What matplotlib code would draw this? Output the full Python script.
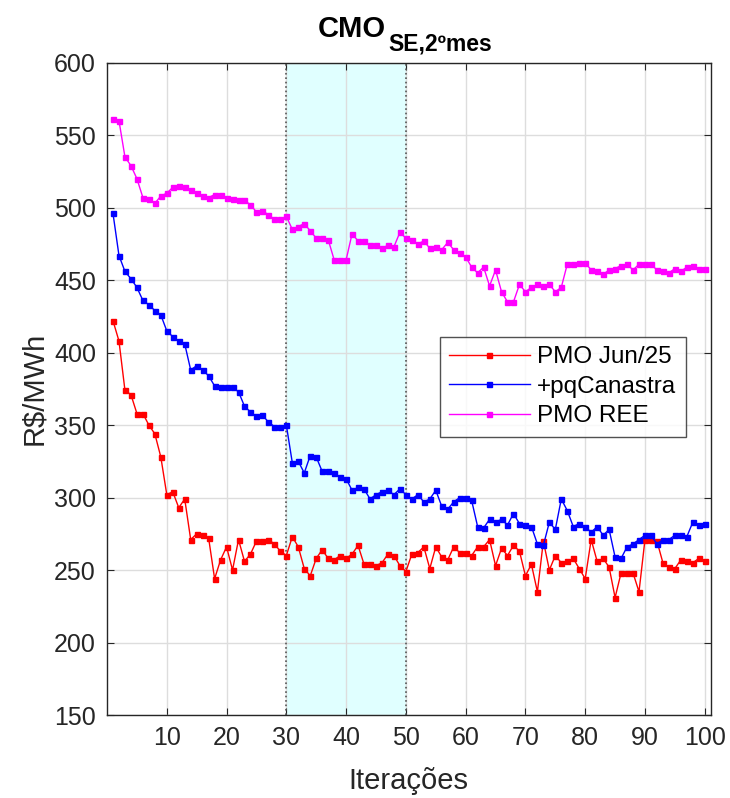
import numpy as np
import matplotlib
matplotlib.use('Agg')
import matplotlib.pyplot as plt

plt.rcParams['font.family'] = ['Liberation Sans', 'DejaVu Sans']

iteracoes = np.arange(1, 101)

pmo_jun25 = [422, 408, 374, 371, 358, 358, 350, 344, 328, 302,
             304, 293, 299, 271, 275, 274, 272, 244, 257, 266,
             250, 271, 256, 261, 270, 270, 271, 268, 263, 260,
             273, 266, 251, 246, 258, 264, 258, 257, 260, 258,
             261, 267, 254, 254, 253, 255, 261, 260, 253, 249,
             261, 262, 266, 251, 266, 259, 257, 266, 262, 262,
             260, 266, 266, 271, 253, 265, 260, 267, 263, 246,
             254, 235, 270, 250, 260, 255, 256, 258, 251, 244,
             271, 256, 258, 252, 231, 248, 248, 248, 235, 271,
             271, 270, 255, 252, 251, 257, 256, 255, 258, 256]

pq_canastra = [496, 467, 456, 451, 445, 436, 433, 429, 426, 415,
               411, 408, 406, 388, 391, 388, 384, 377, 376, 376,
               376, 373, 363, 359, 356, 357, 352, 349, 349, 350,
               324, 325, 317, 329, 328, 318, 318, 317, 314, 313,
               305, 307, 306, 299, 302, 304, 305, 302, 306, 302,
               299, 302, 297, 299, 305, 294, 292, 297, 300, 300,
               298, 280, 279, 285, 283, 285, 281, 289, 282, 281,
               280, 268, 267, 283, 278, 299, 291, 280, 282, 280,
               276, 280, 274, 278, 259, 258, 266, 268, 271, 274,
               274, 268, 271, 271, 274, 274, 273, 283, 281, 282]

pmo_ree = [561, 560, 535, 529, 520, 507, 506, 503, 508, 510,
           514, 515, 514, 512, 510, 508, 507, 509, 509, 507,
           506, 505, 505, 502, 497, 498, 495, 492, 492, 494,
           485, 487, 489, 484, 479, 479, 478, 464, 464, 464,
           482, 477, 477, 474, 474, 472, 474, 473, 483, 479,
           478, 475, 477, 472, 473, 471, 476, 471, 469, 466,
           459, 455, 459, 446, 457, 442, 435, 435, 447, 442,
           445, 447, 446, 447, 442, 445, 461, 461, 462, 462,
           457, 456, 454, 457, 458, 460, 461, 457, 461, 461,
           461, 457, 456, 455, 458, 456, 459, 460, 458, 458]

series = [('PMO Jun/25', pmo_jun25, '#ff0000'),
          ('+pqCanastra', pq_canastra, '#0000ff'),
          ('PMO REE', pmo_ree, '#ff00ff')]

W, H = 730, 798
fig = plt.figure(figsize=(W / 100, H / 100), dpi=100)
ax = fig.add_axes([0.1466, 0.104, 0.827, 0.8174])

# faixa destacada 30-50
ax.axvspan(30, 50, color='#e0ffff', zorder=0)
ax.axvline(30, color='#555555', linestyle=':', linewidth=1.2, zorder=1)
ax.axvline(50, color='#555555', linestyle=':', linewidth=1.2, zorder=1)

for nome, vals, cor in series:
    ax.plot(iteracoes, vals, color=cor, linewidth=1.0, marker='s',
            markersize=3.6, label=nome, zorder=3)

ax.set_xlim(0, 101)
ax.set_ylim(150, 600)
ax.set_xticks(np.arange(10, 101, 10))
ax.set_yticks(np.arange(150, 601, 50))
ax.grid(True, color='#dddddd', linewidth=1.0, zorder=0)
ax.set_axisbelow(True)
ax.tick_params(direction='in', top=True, right=True, length=5,
               labelsize=18, colors='#262626', pad=8)
for s in ax.spines.values():
    s.set_color('#262626')
    s.set_linewidth(1.0)

ax.set_xlabel('Iterações', fontsize=21, color='#262626', labelpad=12)
ax.set_ylabel('R$/MWh', fontsize=21, color='#262626', labelpad=4)

# titulo com subscrito
fig.text(386 / W, 1 - 37 / H, 'CMO', fontsize=21, fontweight='bold',
         ha='right', va='baseline')
fig.text(388 / W, 1 - 51 / H, 'SE,2ºmes', fontsize=16.5, fontweight='bold',
         ha='left', va='baseline')

leg = ax.legend(loc='upper left', bbox_to_anchor=(0.551, 0.58),
                borderaxespad=0, fontsize=17.5, frameon=True, fancybox=False,
                edgecolor='#262626', handlelength=3.3, borderpad=0.4,
                labelspacing=0.3, handletextpad=0.3, markerscale=1.0)
leg.get_frame().set_linewidth(1.0)

fig.savefig('out.png', dpi=100)
